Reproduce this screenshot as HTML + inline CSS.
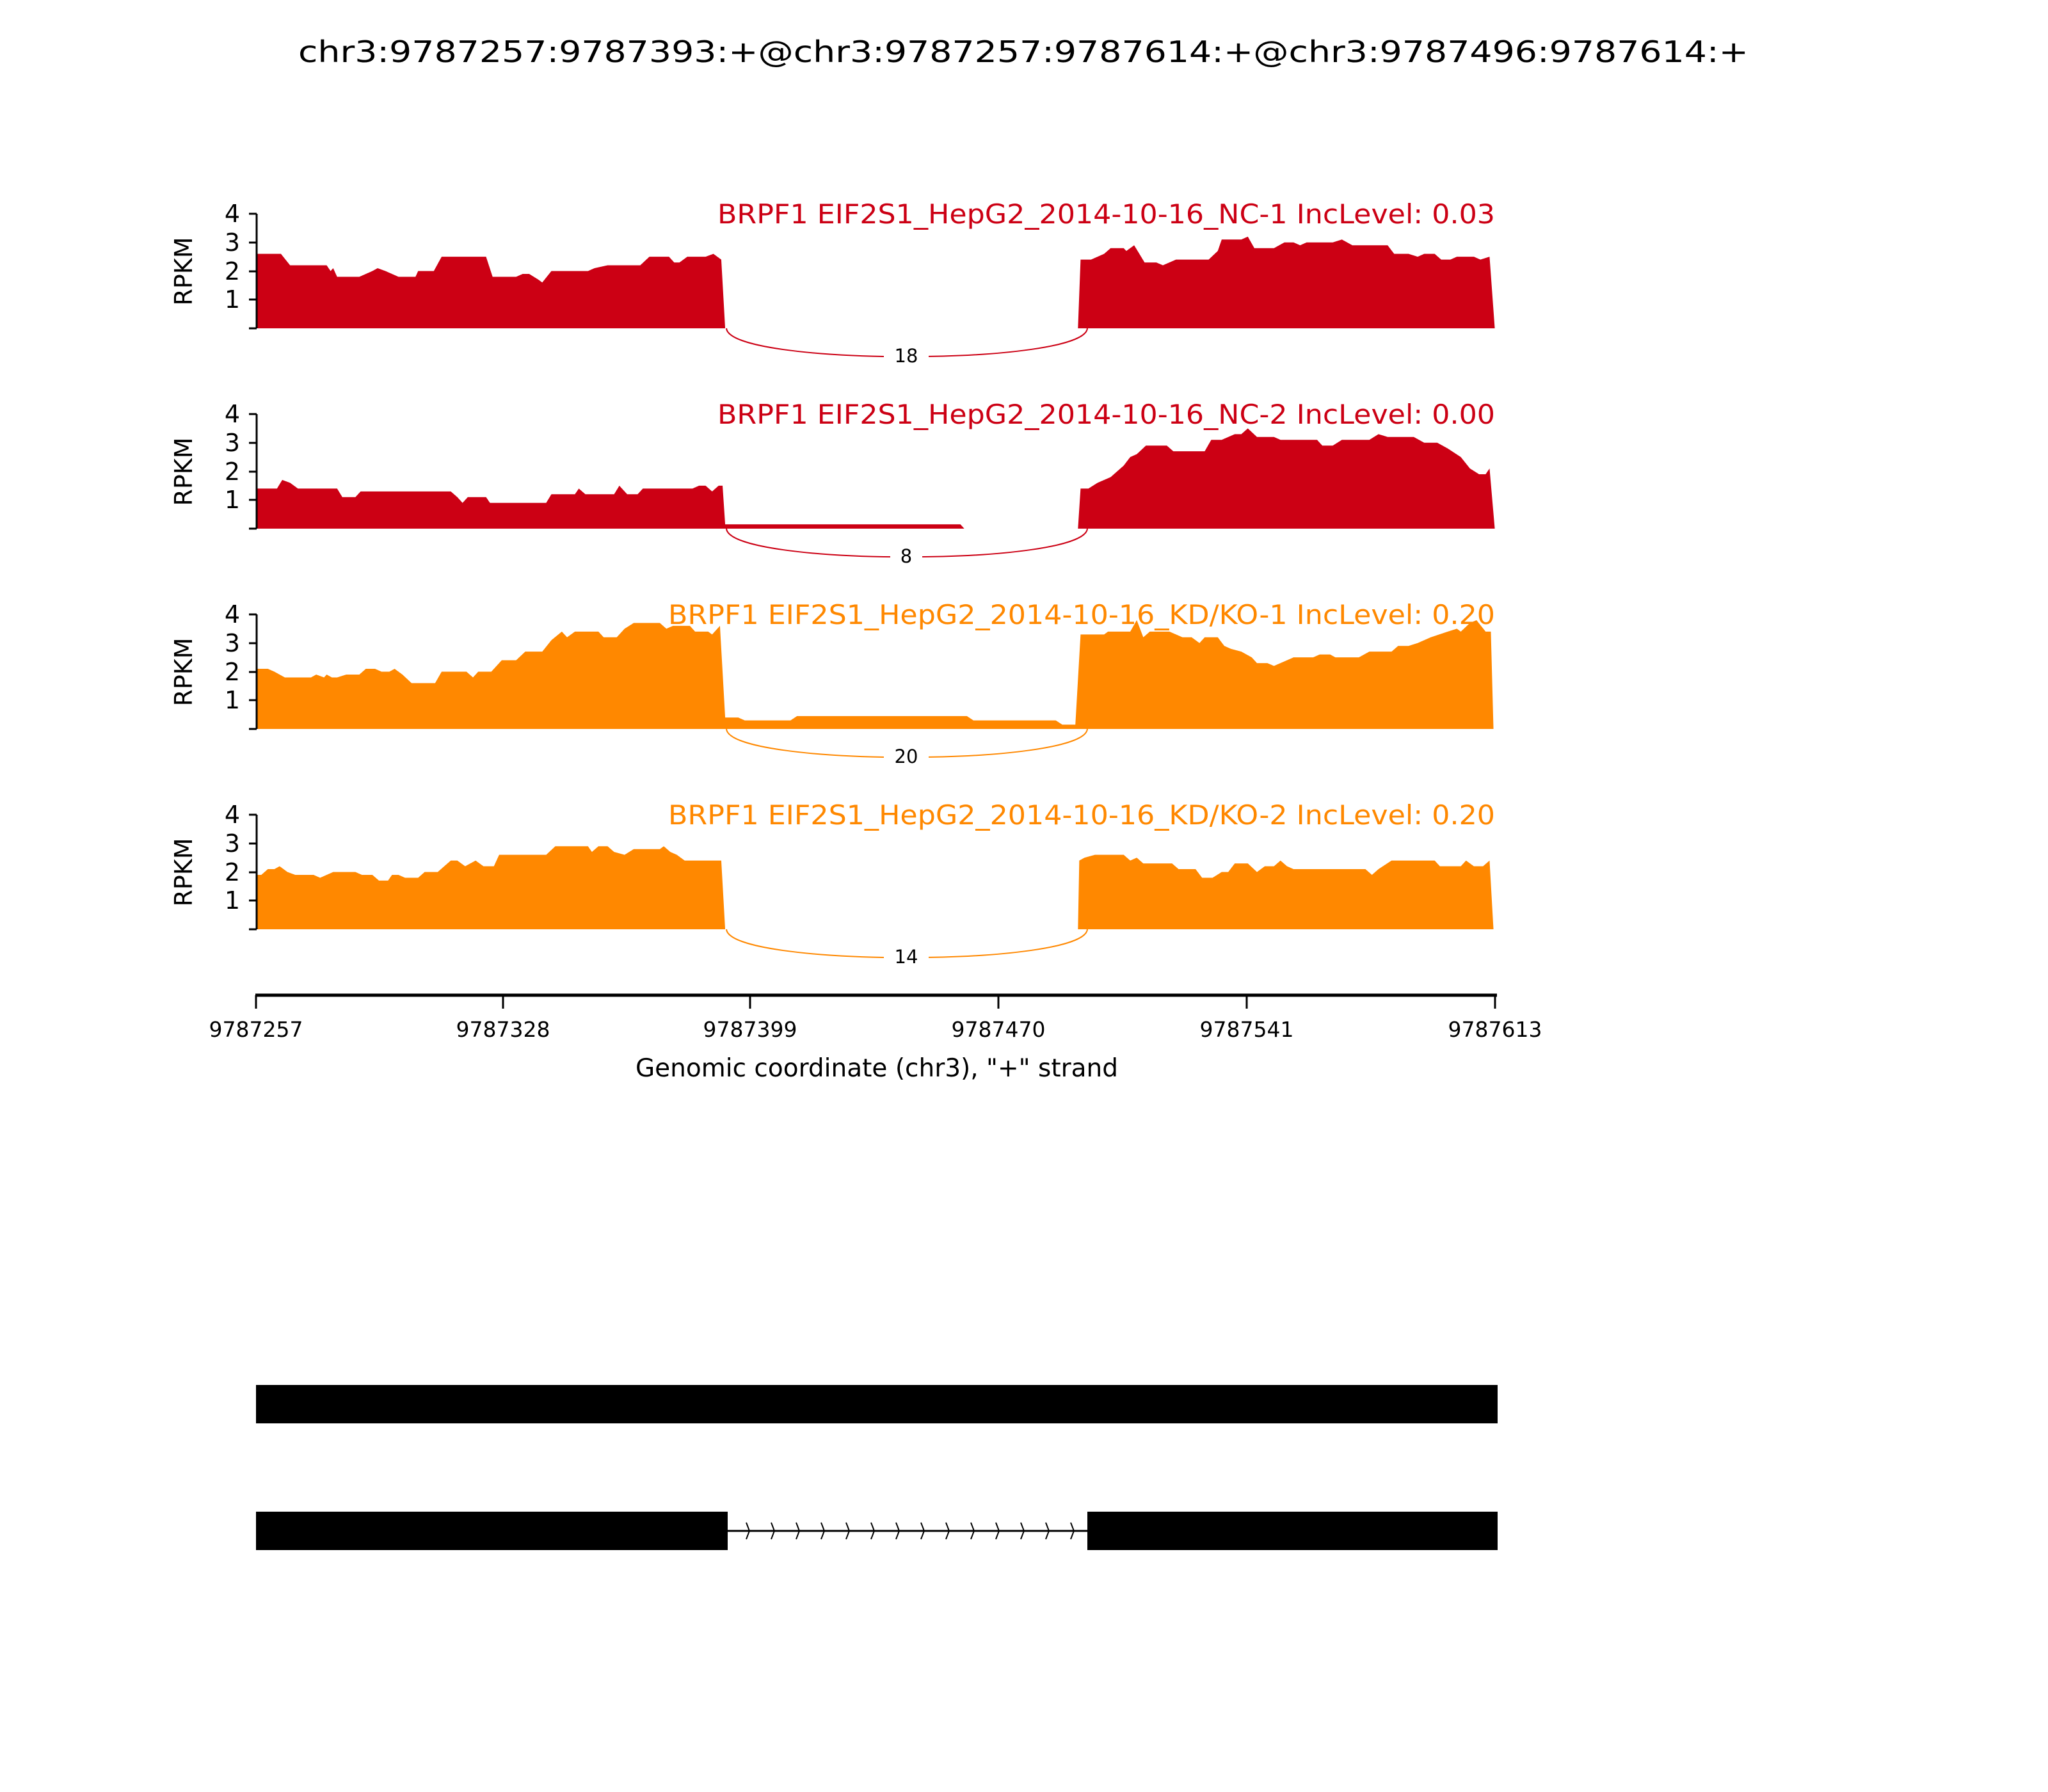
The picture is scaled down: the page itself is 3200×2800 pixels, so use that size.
<!DOCTYPE html>
<html><head><meta charset="utf-8"><style>html,body{margin:0;padding:0;background:#fff}svg{display:block}</style></head>
<body>
<svg width="3200" height="2800" viewBox="0 0 3200 2800" xmlns="http://www.w3.org/2000/svg" font-family="DejaVu Sans, Liberation Sans, sans-serif">
<rect width="3200" height="2800" fill="#fff"/>
<text x="1599" y="97" font-size="46" text-anchor="middle" textLength="2266" lengthAdjust="spacingAndGlyphs">chr3:9787257:9787393:+@chr3:9787257:9787614:+@chr3:9787496:9787614:+</text>

<g transform="translate(0,513) scale(2.0416,-44.75)" fill="#cc0014">
<polygon points="196,0 196,2.6 215,2.6 222,2.2 250,2.2 253,2.0 255,2.1 258,1.8 275,1.8 280,1.9 285,2.0 289,2.1 295,2.0 305,1.8 318,1.8 320,2.0 332,2.0 338,2.5 372,2.5 377,1.8 395,1.8 400,1.9 405,1.9 412,1.7 415,1.6 422,2.0 450,2.0 455,2.1 465,2.2 490,2.2 497,2.5 512,2.5 516,2.3 520,2.3 526,2.5 540,2.5 546,2.6 552,2.4 555,0"/>
<polygon points="825,0 827,2.4 835,2.4 845,2.6 850,2.8 860,2.8 862,2.7 868,2.9 876,2.3 885,2.3 890,2.2 900,2.4 925,2.4 932,2.7 935,3.1 950,3.1 955,3.2 960,2.8 975,2.8 983,3.0 990,3.0 995,2.9 1000,3.0 1020,3.0 1027,3.1 1035,2.9 1062,2.9 1067,2.6 1078,2.6 1085,2.5 1090,2.6 1098,2.6 1103,2.4 1110,2.4 1115,2.5 1128,2.5 1133,2.4 1140,2.5 1144,0"/>
</g>
<g transform="translate(0,826) scale(2.0416,-44.75)" fill="#cc0014">
<polygon points="196,0 196,1.4 212,1.4 216,1.7 222,1.6 228,1.4 258,1.4 262,1.1 272,1.1 276,1.3 345,1.3 350,1.1 354,0.9 358,1.1 372,1.1 375,0.9 418,0.9 422,1.2 440,1.2 443,1.4 448,1.2 470,1.2 474,1.5 480,1.2 488,1.2 492,1.4 530,1.4 535,1.5 540,1.5 545,1.3 550,1.5 553,1.5 555,0.15 735,0.15 738,0 555,0"/>
<polygon points="825,0 827,1.4 833,1.4 840,1.6 850,1.8 860,2.2 865,2.5 870,2.6 877,2.9 893,2.9 898,2.7 922,2.7 927,3.1 935,3.1 945,3.3 950,3.3 955,3.5 962,3.2 975,3.2 980,3.1 1008,3.1 1012,2.9 1020,2.9 1027,3.1 1048,3.1 1055,3.3 1062,3.2 1082,3.2 1090,3.0 1100,3.0 1108,2.8 1118,2.5 1125,2.1 1132,1.9 1137,1.9 1140,2.1 1144,0"/>
</g>
<g transform="translate(0,1139) scale(2.0416,-44.75)" fill="#ff8800">
<polygon points="196,0 196,2.1 205,2.1 210,2.0 218,1.8 238,1.8 242,1.9 248,1.8 250,1.9 254,1.8 258,1.8 265,1.9 275,1.9 280,2.1 287,2.1 292,2.0 298,2.0 302,2.1 308,1.9 315,1.6 333,1.6 338,2.0 357,2.0 362,1.8 366,2.0 376,2.0 384,2.4 395,2.4 402,2.7 415,2.7 422,3.1 430,3.4 434,3.2 440,3.4 458,3.4 462,3.2 472,3.2 478,3.5 485,3.7 505,3.7 510,3.5 515,3.6 528,3.6 532,3.4 542,3.4 545,3.3 551,3.6 555,0.4 565,0.4 570,0.3 605,0.3 610,0.45 740,0.45 745,0.3 808,0.3 813,0.15 823,0.15 827,3.3 845,3.3 848,3.4 865,3.4 870,3.8 875,3.2 880,3.4 895,3.4 905,3.2 912,3.2 918,3.0 922,3.2 932,3.2 937,2.9 942,2.8 950,2.7 958,2.5 962,2.3 970,2.3 975,2.2 985,2.4 990,2.5 1005,2.5 1010,2.6 1018,2.6 1022,2.5 1040,2.5 1048,2.7 1065,2.7 1070,2.9 1078,2.9 1085,3.0 1095,3.2 1108,3.4 1115,3.5 1118,3.4 1125,3.7 1130,3.8 1137,3.4 1141,3.4 1143,0"/>
</g>
<g transform="translate(0,1452) scale(2.0416,-44.75)" fill="#ff8800">
<polygon points="196,0 196,1.9 200,1.9 205,2.1 210,2.1 214,2.2 220,2.0 226,1.9 240,1.9 245,1.8 250,1.9 255,2.0 272,2.0 277,1.9 285,1.9 290,1.7 297,1.7 300,1.9 305,1.9 310,1.8 320,1.8 325,2.0 335,2.0 340,2.2 345,2.4 350,2.4 356,2.2 364,2.4 370,2.2 378,2.2 382,2.6 418,2.6 425,2.9 450,2.9 453,2.7 458,2.9 465,2.9 470,2.7 478,2.6 485,2.8 505,2.8 508,2.9 513,2.7 518,2.6 524,2.4 552,2.4 555,0"/>
<polygon points="825,0 826,2.4 830,2.5 838,2.6 860,2.6 865,2.4 870,2.5 875,2.3 897,2.3 902,2.1 915,2.1 920,1.8 928,1.8 935,2.0 940,2.0 945,2.3 955,2.3 962,2.0 968,2.2 975,2.2 980,2.4 985,2.2 990,2.1 1045,2.1 1050,1.9 1055,2.1 1065,2.4 1098,2.4 1102,2.2 1118,2.2 1122,2.4 1128,2.2 1135,2.2 1140,2.4 1143,0"/>
</g>

<g stroke="#000" stroke-width="3" fill="none">
<path d="M401,334V513 M389,334H401 M389,379H401 M389,424H401 M389,468H401 M389,513H401"/>
<path d="M401,647V826 M389,647H401 M389,692H401 M389,737H401 M389,781H401 M389,826H401"/>
<path d="M401,960V1139 M389,960H401 M389,1005H401 M389,1050H401 M389,1094H401 M389,1139H401"/>
<path d="M401,1273V1452 M389,1273H401 M389,1318H401 M389,1363H401 M389,1407H401 M389,1452H401"/>
</g>
<g font-size="38" text-anchor="end">
<text x="375" y="347">4</text><text x="375" y="392">3</text><text x="375" y="437">2</text><text x="375" y="481">1</text>
<text x="375" y="660">4</text><text x="375" y="705">3</text><text x="375" y="750">2</text><text x="375" y="794">1</text>
<text x="375" y="973">4</text><text x="375" y="1018">3</text><text x="375" y="1063">2</text><text x="375" y="1107">1</text>
<text x="375" y="1286">4</text><text x="375" y="1331">3</text><text x="375" y="1376">2</text><text x="375" y="1420">1</text>
</g>
<g font-size="38" text-anchor="middle">
<text transform="translate(300,424) rotate(-90)">RPKM</text>
<text transform="translate(300,737) rotate(-90)">RPKM</text>
<text transform="translate(300,1050) rotate(-90)">RPKM</text>
<text transform="translate(300,1363) rotate(-90)">RPKM</text>
</g>
<g font-size="42" text-anchor="end">
<text x="2336" y="349" fill="#cc0014" textLength="1215" lengthAdjust="spacingAndGlyphs">BRPF1 EIF2S1_HepG2_2014-10-16_NC-1 IncLevel: 0.03</text>
<text x="2336" y="662" fill="#cc0014" textLength="1215" lengthAdjust="spacingAndGlyphs">BRPF1 EIF2S1_HepG2_2014-10-16_NC-2 IncLevel: 0.00</text>
<text x="2336" y="975" fill="#ff8800" textLength="1292" lengthAdjust="spacingAndGlyphs">BRPF1 EIF2S1_HepG2_2014-10-16_KD/KO-1 IncLevel: 0.20</text>
<text x="2336" y="1288" fill="#ff8800" textLength="1292" lengthAdjust="spacingAndGlyphs">BRPF1 EIF2S1_HepG2_2014-10-16_KD/KO-2 IncLevel: 0.20</text>
</g>

<g fill="none" stroke-width="2">
<path d="M1135,513 C1140,572 1694,572 1699,513" stroke="#cc0014"/>
<path d="M1135,826 C1140,885 1694,885 1699,826" stroke="#cc0014"/>
<path d="M1135,1139 C1140,1198 1694,1198 1699,1139" stroke="#ff8800"/>
<path d="M1135,1452 C1140,1511 1694,1511 1699,1452" stroke="#ff8800"/>
</g>
<g fill="#fff"><rect x="1381" y="538" width="70" height="36"/><rect x="1391" y="851" width="50" height="36"/><rect x="1381" y="1164" width="70" height="36"/><rect x="1381" y="1477" width="70" height="36"/></g>
<g font-size="29" text-anchor="middle">
<text x="1416" y="566">18</text><text x="1416" y="879">8</text><text x="1416" y="1192">20</text><text x="1416" y="1505">14</text>
</g>

<g stroke="#000" fill="none">
<path d="M399,1555H2339" stroke-width="5"/>
<path d="M400,1555V1576 M786,1555V1576 M1172,1555V1576 M1560,1555V1576 M1948,1555V1576 M2336,1555V1576" stroke-width="3"/>
</g>
<g font-size="33" text-anchor="middle">
<text x="400" y="1620">9787257</text><text x="786" y="1620">9787328</text><text x="1172" y="1620">9787399</text>
<text x="1560" y="1620">9787470</text><text x="1948" y="1620">9787541</text><text x="2336" y="1620">9787613</text>
</g>
<text x="1370" y="1682" font-size="39" text-anchor="middle">Genomic coordinate (chr3), "+" strand</text>

<rect x="400" y="2164" width="1940" height="60" fill="#000"/>
<rect x="400" y="2362" width="737" height="60" fill="#000"/>
<rect x="1699" y="2362" width="641" height="60" fill="#000"/>
<path d="M1137,2392H1699" stroke="#000" stroke-width="3"/>
<g stroke="#000" stroke-width="2" fill="none">
<path d="M1166,2379 l5,13 l-5,13 M1205,2379 l5,13 l-5,13 M1244,2379 l5,13 l-5,13 M1283,2379 l5,13 l-5,13 M1322,2379 l5,13 l-5,13 M1361,2379 l5,13 l-5,13 M1400,2379 l5,13 l-5,13 M1439,2379 l5,13 l-5,13 M1478,2379 l5,13 l-5,13 M1517,2379 l5,13 l-5,13 M1556,2379 l5,13 l-5,13 M1595,2379 l5,13 l-5,13 M1634,2379 l5,13 l-5,13 M1673,2379 l5,13 l-5,13"/>
</g>
</svg>
</body></html>
